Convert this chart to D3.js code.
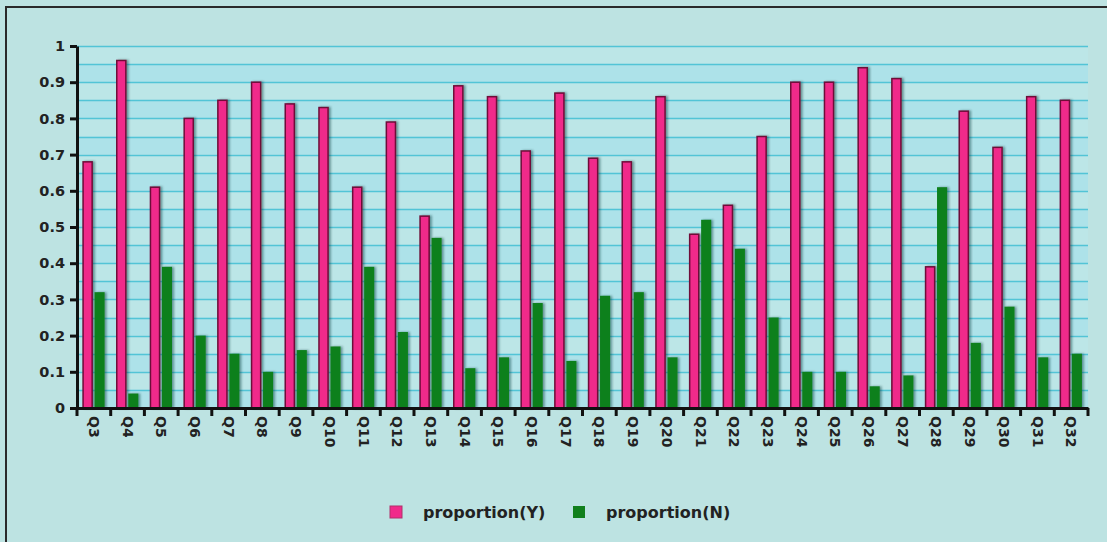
<!DOCTYPE html>
<html><head><meta charset="utf-8">
<script src="https://cdn.jsdelivr.net/npm/d3@7"></script>
<style>html,body{margin:0;padding:0;background:#bfe4e4;}svg{display:block;}</style>
</head><body>
<svg id="c" width="1107" height="542"></svg>
<script>
const categories = ["Q3","Q4","Q5","Q6","Q7","Q8","Q9","Q10","Q11","Q12","Q13","Q14","Q15","Q16","Q17","Q18","Q19","Q20","Q21","Q22","Q23","Q24","Q25","Q26","Q27","Q28","Q29","Q30","Q31","Q32"];
const proportionY = [0.68,0.96,0.61,0.80,0.85,0.90,0.84,0.83,0.61,0.79,0.53,0.89,0.86,0.71,0.87,0.69,0.68,0.86,0.48,0.56,0.75,0.90,0.90,0.94,0.91,0.39,0.82,0.72,0.86,0.85];
const proportionN = [0.32,0.04,0.39,0.20,0.15,0.10,0.16,0.17,0.39,0.21,0.47,0.11,0.14,0.29,0.13,0.31,0.32,0.14,0.52,0.44,0.25,0.10,0.10,0.06,0.09,0.61,0.18,0.28,0.14,0.15];
const yTicks = [0,0.1,0.2,0.3,0.4,0.5,0.6,0.7,0.8,0.9,1];
const gridValues = d3.range(0, 21).map(i => i * 0.05);
const seriesNames = ["proportion(Y)","proportion(N)"];

const FONT = "DejaVu Sans, Verdana, sans-serif";
const svg = d3.select("#c");
const W = 1107, H = 542;
const L = 77, R = 1088, T = 46, B = 408;

// outer frame
svg.append("rect").attr("x",0).attr("y",0).attr("width",W).attr("height",H).attr("fill","#bde3e2");
svg.append("line").attr("x1",5).attr("x2",W).attr("y1",7).attr("y2",7).attr("stroke","#2a2a2a").attr("stroke-width",2);
svg.append("line").attr("x1",6).attr("x2",6).attr("y1",7).attr("y2",H).attr("stroke","#2a2a2a").attr("stroke-width",2);

const x = d3.scaleBand().domain(categories).range([L, R]).padding(0);
const y = d3.scaleLinear().domain([0,1]).range([B, T]);

const defs = svg.append("defs");
const f = defs.append("filter").attr("id","sh").attr("x","-50%").attr("y","-10%").attr("width","200%").attr("height","120%");
f.append("feDropShadow").attr("dx",2).attr("dy",0).attr("stdDeviation",1.2).attr("flood-color","#003030").attr("flood-opacity",0.45);

// plot background with stripes
svg.append("rect").attr("x",L).attr("y",T).attr("width",R-L).attr("height",B-T).attr("fill","#ade2e9");
const bands = d3.range(0, 20);
svg.append("g").selectAll("rect").data(bands.filter(i => i % 2 === 1)).join("rect")
  .attr("x", L).attr("width", R - L)
  .attr("y", i => y((i+1)*0.05)).attr("height", i => y(i*0.05) - y((i+1)*0.05))
  .attr("fill","#bce6e7");
svg.append("g").selectAll("line").data(gridValues).join("line")
  .attr("x1", L).attr("x2", R)
  .attr("y1", d => Math.round(y(d))+0.5).attr("y2", d => Math.round(y(d))+0.5)
  .attr("stroke","#52c4d6").attr("stroke-width",1.3);

// bars
const bw = x.bandwidth();
const g = svg.append("g");
g.selectAll("rect.y").data(categories).join("rect").attr("class","y")
  .attr("x", (d,i) => x(d) + bw*0.18)
  .attr("width", bw*0.27)
  .attr("y", (d,i) => y(proportionY[i]))
  .attr("height", (d,i) => y(0) - y(proportionY[i]))
  .attr("fill","#f02a8a").attr("stroke","#6e0c38").attr("stroke-width",1.5)
  .attr("filter","url(#sh)");
g.selectAll("rect.n").data(categories).join("rect").attr("class","n")
  .attr("x", (d,i) => x(d) + bw*0.52)
  .attr("width", bw*0.30)
  .attr("y", (d,i) => y(proportionN[i]))
  .attr("height", (d,i) => y(0) - y(proportionN[i]))
  .attr("fill","#11801d")
  .attr("filter","url(#sh)");

// y axis
const yAxis = d3.axisLeft(y).tickValues(yTicks).tickFormat(d => d3.format("")(+d.toFixed(1))).tickSize(7).tickSizeOuter(0);
const ya = svg.append("g").attr("transform",`translate(${L},0)`).call(yAxis);
ya.select(".domain").attr("stroke","#111").attr("stroke-width",3);
ya.selectAll(".tick line").attr("stroke","#111").attr("stroke-width",3);
ya.selectAll(".tick text").attr("font-family",FONT).attr("font-weight","bold").attr("font-size",14.5).attr("fill","#222").attr("x",-12);

// x axis
const xAxis = d3.axisBottom(x).tickSize(0).tickSizeOuter(0);
const xa = svg.append("g").attr("transform",`translate(0,${B})`).call(xAxis);
xa.select(".domain").attr("stroke","#111").attr("stroke-width",3);
// ticks at band boundaries
const bounds = categories.map(c => x(c)).concat([R]);
xa.selectAll("line.bt").data(bounds).join("line").attr("class","bt")
  .attr("x1", d => d).attr("x2", d => d).attr("y1",0).attr("y2",8)
  .attr("stroke","#111").attr("stroke-width",3);
xa.selectAll(".tick text")
  .attr("font-family",FONT).attr("font-weight","bold").attr("font-size",14).attr("fill","#222")
  .attr("transform","rotate(90)").attr("x",8).attr("y",0).attr("dy","0.35em").attr("text-anchor","start");

// legend
const lg = svg.append("g");
const colors = ["#f02a8a","#11801d"];
const lx = [390, 573];
seriesNames.forEach((s,i) => {
  lg.append("rect").attr("x",lx[i]).attr("y",506).attr("width",12).attr("height",12).attr("fill",colors[i])
    .attr("stroke", i===0 ? "#b0306a" : "none");
  lg.append("text").attr("x",lx[i]+33).attr("y",518).text(s)
    .attr("font-family",FONT).attr("font-weight","bold").attr("font-size",16).attr("fill","#222");
});
</script>
</body></html>
